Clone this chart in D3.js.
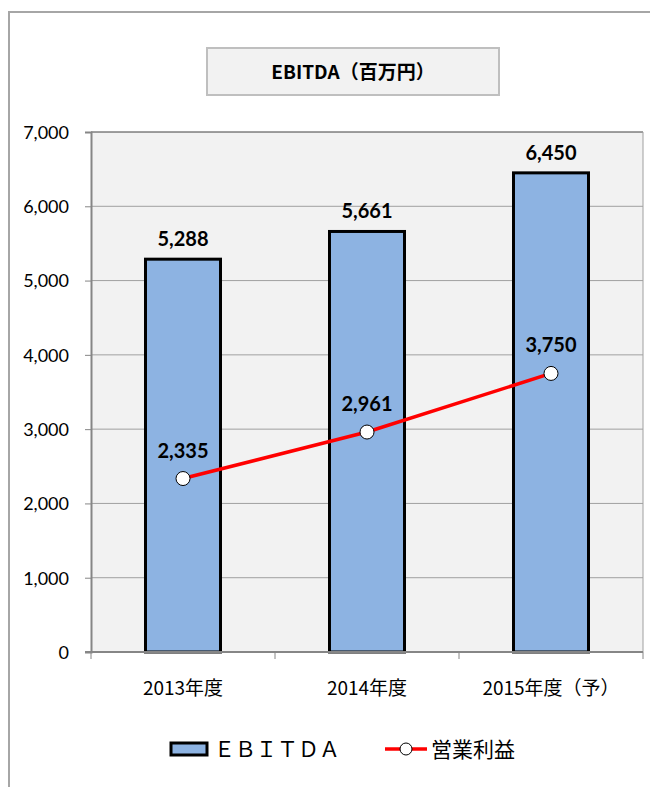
<!DOCTYPE html>
<html>
<head>
<meta charset="utf-8">
<script src="https://cdn.jsdelivr.net/npm/d3@7"></script>
<style>
  body { margin: 0; background: #fff; }
  text { font-family: Lato, "Noto Sans CJK JP", sans-serif; }
  .jp { font-family: "Noto Sans CJK JP", sans-serif; }
</style>
</head>
<body>
<div id="chart"></div>
<script>
var categories = ["2013年度", "2014年度", "2015年度（予）"];
var ebitda = [5288, 5661, 6450];
var opProfit = [2335, 2961, 3750];
var yTicks = [0, 1000, 2000, 3000, 4000, 5000, 6000, 7000];

var W = 650, H = 787;
var plot = { left: 91, right: 643, top: 132, bottom: 652 };

var svg = d3.select("#chart").append("svg")
            .attr("width", W)
            .attr("height", H);

// outer frame (runs off the page to the right and bottom)
svg.append("rect")
   .attr("x", 9).attr("y", 12)
   .attr("width", 660).attr("height", 800)
   .attr("fill", "#fff")
   .attr("stroke", "#a6a6a6")
   .attr("stroke-width", 2);

// title box
svg.append("rect")
   .attr("x", 207).attr("y", 48)
   .attr("width", 292).attr("height", 47)
   .attr("fill", "#f2f2f2")
   .attr("stroke", "#bfbfbf")
   .attr("stroke-width", 2);
svg.append("text")
   .attr("x", 353).attr("y", 79)
   .attr("text-anchor", "middle")
   .attr("class", "jp")
   .style("font-size", "19px")
   .style("font-weight", "bold")
   .text("EBITDA（百万円）");

var xScale = d3.scaleBand()
               .domain(categories)
               .range([plot.left, plot.right])
               .paddingInner(0).paddingOuter(0);

var yScale = d3.scaleLinear()
               .domain([0, 7000])
               .range([plot.bottom, plot.top]);

// plot background
svg.append("rect")
   .attr("x", plot.left).attr("y", plot.top)
   .attr("width", plot.right - plot.left)
   .attr("height", plot.bottom - plot.top)
   .attr("fill", "#f2f2f2");

// gridlines
svg.append("g")
   .selectAll("line")
   .data(yTicks.filter(function(d){ return d > 0; }))
   .enter().append("line")
   .attr("x1", plot.left).attr("x2", plot.right)
   .attr("y1", function(d){ return yScale(d); })
   .attr("y2", function(d){ return yScale(d); })
   .attr("stroke", function(d){ return d === 7000 ? "#404040" : "#a0a0a0"; })
   .attr("stroke-width", 1);

// right border of plot
svg.append("line")
   .attr("x1", plot.right).attr("x2", plot.right)
   .attr("y1", plot.top).attr("y2", plot.bottom)
   .attr("stroke", "#a0a0a0");

// y axis
var yAxis = d3.axisLeft(yScale)
              .tickValues(yTicks)
              .tickSize(6)
              .tickFormat(d3.format(","));
var yg = svg.append("g")
   .attr("transform", "translate(" + plot.left + ",0)")
   .call(yAxis);
yg.select(".domain").attr("stroke", "#868686").attr("stroke-width", 2);
yg.selectAll(".tick line").attr("stroke", "#868686");
yg.selectAll(".tick text")
  .attr("x", -22)
  .attr("dy", "0.35em")
  .style("font-size", "18px")
  .style("font-family", "Lato, sans-serif")
  .attr("fill", "#000");

// bars
var barW = 75;
svg.append("g")
   .selectAll("rect")
   .data(ebitda)
   .enter().append("rect")
   .attr("x", function(d, i){ return xScale(categories[i]) + xScale.bandwidth()/2 - barW/2; })
   .attr("y", function(d){ return yScale(d); })
   .attr("width", barW)
   .attr("height", function(d){ return yScale(0) - yScale(d); })
   .attr("fill", "#8db3e2")
   .attr("stroke", "#000")
   .attr("stroke-width", 3);

// x axis
var xg = svg.append("g")
   .attr("transform", "translate(0," + plot.bottom + ")");
xg.append("line")
  .attr("x1", plot.left - 6).attr("x2", plot.right)
  .attr("stroke", "#868686").attr("stroke-width", 2);
xg.selectAll(".xtick")
  .data([0, 1, 2, 3])
  .enter().append("line")
  .attr("x1", function(d){ return plot.left + d * xScale.step(); })
  .attr("x2", function(d){ return plot.left + d * xScale.step(); })
  .attr("y1", 0).attr("y2", 7)
  .attr("stroke", "#868686");
xg.selectAll(".xlabel")
  .data(categories)
  .enter().append("text")
  .attr("class", "jp")
  .attr("x", function(d){ return xScale(d) + xScale.bandwidth()/2; })
  .attr("y", 43)
  .attr("text-anchor", "middle")
  .style("font-size", "19px")
  .text(function(d){ return d; });

// bar value labels
svg.append("g")
   .selectAll("text")
   .data(ebitda)
   .enter().append("text")
   .attr("x", function(d, i){ return xScale(categories[i]) + xScale.bandwidth()/2; })
   .attr("y", function(d){ return yScale(d) - 13; })
   .attr("text-anchor", "middle")
   .style("font-size", "20px")
   .style("font-weight", "bold")
   .text(function(d){ return d3.format(",")(d); });

// line
var line = d3.line()
             .x(function(d, i){ return xScale(categories[i]) + xScale.bandwidth()/2; })
             .y(function(d){ return yScale(d); });
svg.append("path")
   .datum(opProfit)
   .attr("d", line)
   .attr("fill", "none")
   .attr("stroke", "#ff0000")
   .attr("stroke-width", 3.5);

svg.append("g")
   .selectAll("circle")
   .data(opProfit)
   .enter().append("circle")
   .attr("cx", function(d, i){ return xScale(categories[i]) + xScale.bandwidth()/2; })
   .attr("cy", function(d){ return yScale(d); })
   .attr("r", 7)
   .attr("fill", "#fff")
   .attr("stroke", "#000")
   .attr("stroke-width", 1);

svg.append("g")
   .selectAll("text")
   .data(opProfit)
   .enter().append("text")
   .attr("x", function(d, i){ return xScale(categories[i]) + xScale.bandwidth()/2; })
   .attr("y", function(d){ return yScale(d) - 21; })
   .attr("text-anchor", "middle")
   .style("font-size", "20px")
   .style("font-weight", "bold")
   .text(function(d){ return d3.format(",")(d); });

// legend
var lg = svg.append("g").attr("transform", "translate(0,749)");
lg.append("rect")
  .attr("x", 171).attr("y", -6)
  .attr("width", 36).attr("height", 12)
  .attr("fill", "#8db3e2")
  .attr("stroke", "#000")
  .attr("stroke-width", 3);
lg.append("text")
  .attr("class", "jp")
  .attr("x", 214).attr("y", 8)
  .style("font-size", "21px")
  .text("ＥＢＩＴＤＡ");
lg.append("line")
  .attr("x1", 385).attr("x2", 427)
  .attr("y1", 0).attr("y2", 0)
  .attr("stroke", "#ff0000")
  .attr("stroke-width", 3.5);
lg.append("circle")
  .attr("cx", 406).attr("cy", 0).attr("r", 6)
  .attr("fill", "#fff").attr("stroke", "#000");
lg.append("text")
  .attr("class", "jp")
  .attr("x", 431).attr("y", 8)
  .style("font-size", "21px")
  .text("営業利益");
</script>
</body>
</html>
